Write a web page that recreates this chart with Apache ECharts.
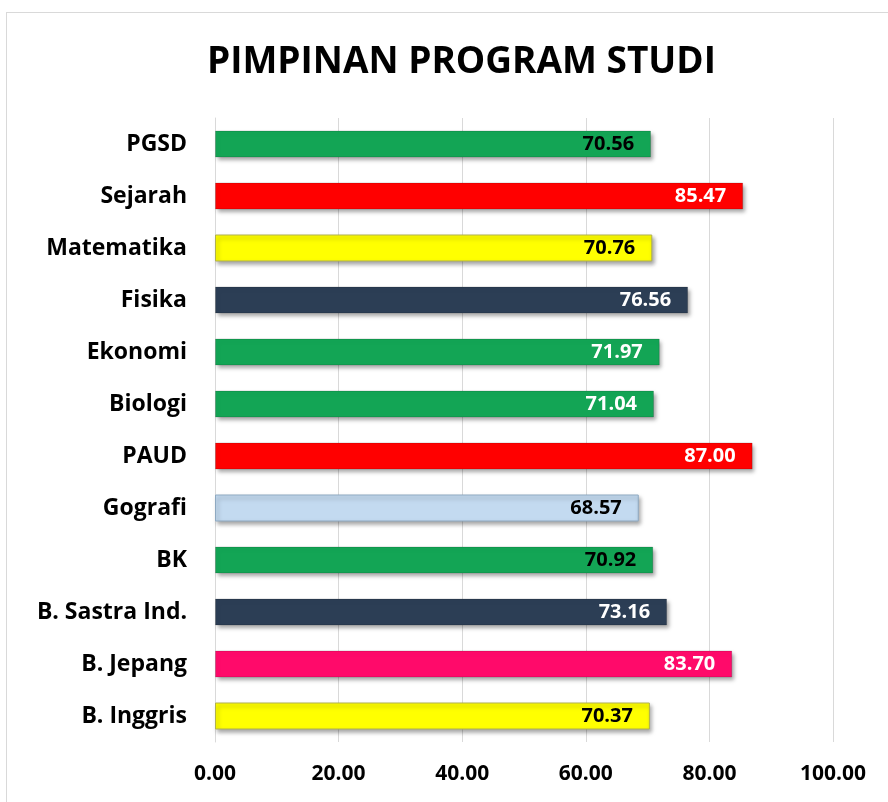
<!DOCTYPE html>
<html>
<head>
<meta charset="utf-8">
<style>
  html, body { margin: 0; padding: 0; background: #fff; }
  #frame { position: absolute; left: 6px; top: 12px; width: 900px; height: 820px; border: 1px solid #d9d9d9; box-sizing: border-box; }
  #chart { position: absolute; left: 0; top: 0; width: 888px; height: 802px; }
</style>
<script src="https://cdn.jsdelivr.net/npm/echarts@6/dist/echarts.min.js"></script>
</head>
<body>
<div id="frame"></div>
<div id="chart"></div>
<script>
// top-to-bottom order as in the picture
const prodi = ['PGSD', 'Sejarah', 'Matematika', 'Fisika', 'Ekonomi', 'Biologi', 'PAUD', 'Gografi', 'BK', 'B. Sastra Ind.', 'B. Jepang', 'B. Inggris']
const nilai = [70.56, 85.47, 70.76, 76.56, 71.97, 71.04, 87.00, 68.57, 70.92, 73.16, 83.70, 70.37]
const warna = ['#13a555', '#ff0000', '#ffff00', '#2c3e55', '#13a555', '#13a555', '#ff0000', '#c3daf0', '#13a555', '#2c3e55', '#ff0a6a', '#ffff00']
const warnaLabel = ['#000', '#fff', '#000', '#fff', '#fff', '#fff', '#fff', '#000', '#000', '#fff', '#fff', '#000']
const xTicks = [0, 20, 40, 60, 80, 100]

const font = '"Open Sans", "Noto Sans", sans-serif'
const chart = echarts.init(document.getElementById('chart'))

chart.setOption({
  animation: false,
  title: {
    text: 'PIMPINAN PROGRAM STUDI',
    left: 202,
    top: 39,
    textStyle: { fontFamily: font, fontSize: 37, fontWeight: 'bold', color: '#000' }
  },
  grid: { left: 215, right: 55, top: 118, bottom: 60 },
  xAxis: {
    type: 'value', min: xTicks[0], max: xTicks[xTicks.length - 1], interval: 20,
    axisLine: { show: false }, axisTick: { show: false },
    axisLabel: { color: '#000', fontFamily: font, fontSize: 21, fontWeight: 'bold', margin: 22, formatter: v => v.toFixed(2) },
    splitLine: { lineStyle: { color: '#d9d9d9', width: 1 } }
  },
  yAxis: {
    type: 'category', inverse: true, data: prodi,
    axisLine: { show: true, lineStyle: { color: '#d9d9d9' } }, axisTick: { show: false },
    axisLabel: { color: '#000', fontFamily: font, fontSize: 23, fontWeight: 'bold', margin: 28 }
  },
  series: [{
    type: 'bar',
    barWidth: 27,
    data: nilai.map((v, i) => ({
      value: v,
      itemStyle: {
        color: warna[i],
        borderColor: i === 7 ? '#8ea9c1' : (i === 2 || i === 11 ? '#b0b050' : 'rgba(0,0,0,0.15)'),
        borderWidth: 1
      },
      label: { color: warnaLabel[i] }
    })),
    itemStyle: { shadowColor: 'rgba(0,0,0,0.35)', shadowBlur: 4, shadowOffsetX: 2, shadowOffsetY: 3 },
    label: {
      show: true, position: 'insideRight', distance: 17,
      fontFamily: font, fontSize: 20, fontWeight: 'bold',
      formatter: p => p.value.toFixed(2)
    }
  }]
})
</script>
</body>
</html>
